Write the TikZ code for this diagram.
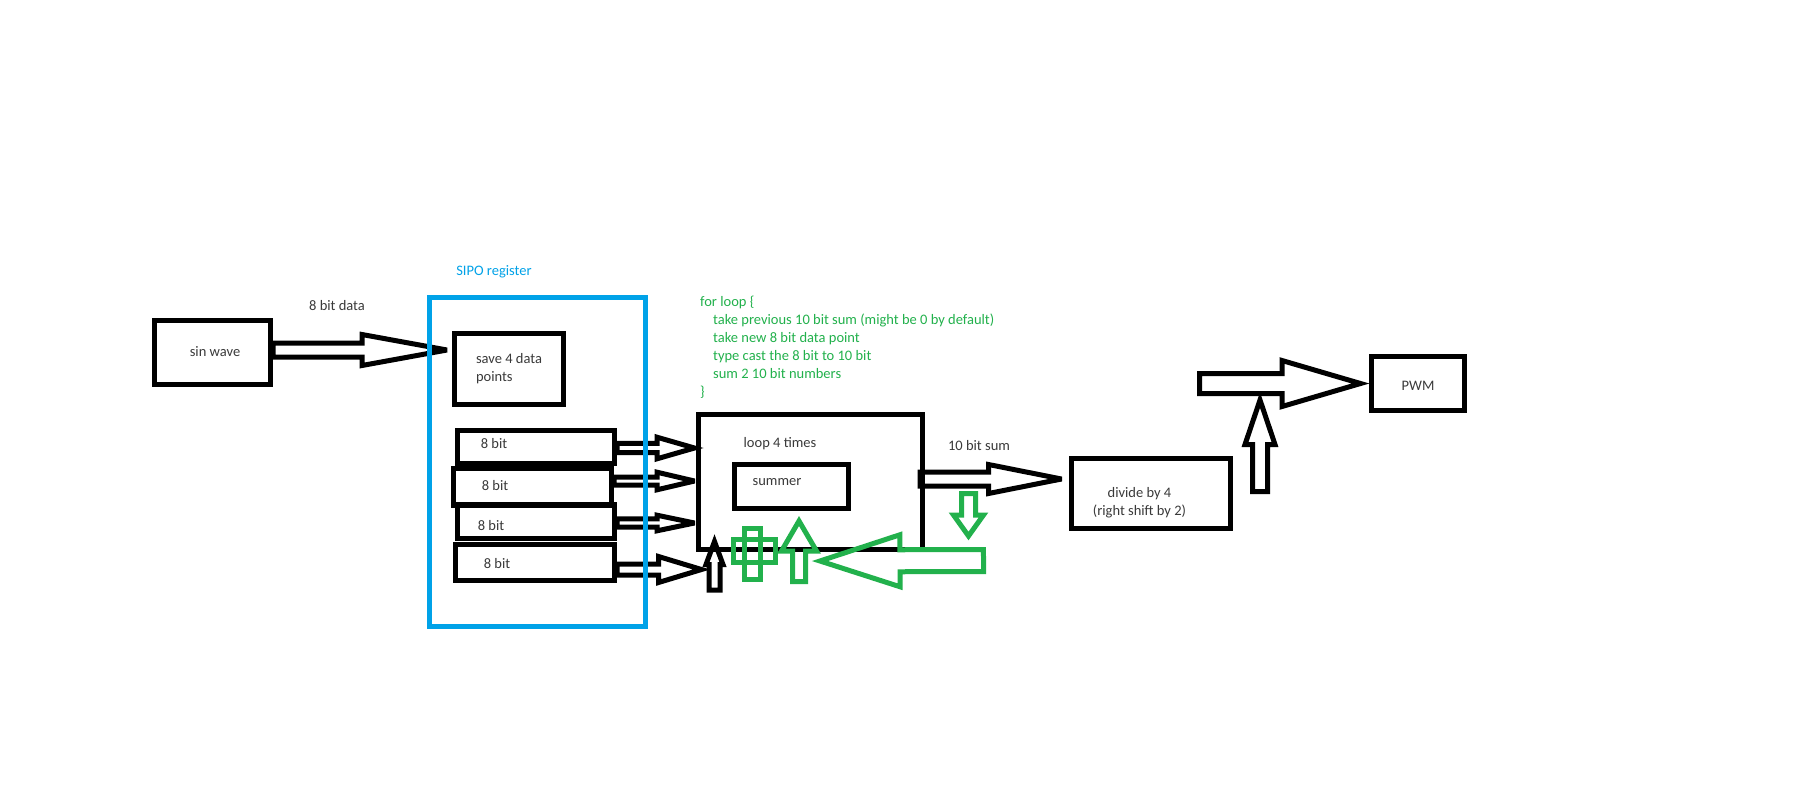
\documentclass[tikz,border=0pt]{standalone}
\usepackage{fontspec}
\setmainfont{Carlito}
\usetikzlibrary{calc}
\definecolor{pblue}{HTML}{00A2E8}
\definecolor{pgreen}{HTML}{22B14C}
\definecolor{ink}{HTML}{3A3A3A}

% Outlined block arrow: style, tail, tip, half shaft width, half head width, head length
\newcommand\blockarrow[6]{%
  \coordinate (bat) at (#2);
  \coordinate (bap) at (#3);
  \coordinate (bab) at ($(bap)!#6pt!(bat)$);
  \draw[#1] ($(bat)!#4pt!90:(bap)$) -- ($(bab)!#4pt!90:(bap)$)
    -- ($(bab)!#5pt!90:(bap)$) -- (bap) -- ($(bab)!#5pt!-90:(bap)$)
    -- ($(bab)!#4pt!-90:(bap)$) -- ($(bat)!#4pt!-90:(bap)$) -- cycle;
}

\tikzset{
  txt/.style={inner sep=0pt, font=\fontsize{14.5}{18}\selectfont, text=ink},
  box/.style={txt, draw=black, line width=5pt},
  bitbox/.style={box, minimum width=157pt, minimum height=34pt},
  regbox/.style={draw=pblue, line width=5pt, inner sep=0pt},
  blk/.style={draw=black, line width=5pt, line join=miter, miter limit=4},
  grn/.style={draw=pgreen, line width=5pt, line join=miter, miter limit=4},
}

\begin{document}
\begin{tikzpicture}[x=1pt, y=-1pt]
\useasboundingbox[fill=white] (0,0) rectangle (1809,798);

% blocks
\node[box, minimum width=116pt, minimum height=64pt] (sin) at (212.5,352.5) {};
\node[txt] (sinl) at (215,352) {sin wave};
\node[box, minimum width=109pt, minimum height=71pt, align=left] (save) at (509,369) {save 4 data\\points};
\node[bitbox, minimum height=33pt] (b1) at (536,447) {};
\node[bitbox, minimum width=158pt, minimum height=37pt] (b2) at (532.5,487) {};
\node[bitbox] (b3) at (536,521.5) {};
\node[bitbox, minimum width=159pt, minimum height=36pt] (b4) at (535,562.5) {};
\node[txt] (b1l) at (494,444) {8 bit};
\node[txt] (b2l) at (495,486) {8 bit};
\node[txt] (b3l) at (491,526) {8 bit};
\node[txt] (b4l) at (497,564) {8 bit};

\node[box, minimum width=224pt, minimum height=135pt] (loop) at (810.5,482) {};
\node[txt] (loopl) at (780,444) {loop 4 times};
\node[box, minimum width=114pt, minimum height=44pt] (summer) at (791.5,486.5) {};
\node[txt] (summerl) at (777,482) {summer};

\node[box, minimum width=159pt, minimum height=70pt] (divide) at (1151,493.5) {};
\node[txt, align=center] (dividel) at (1139.5,503) {divide by 4\\(right shift by 2)};
\node[box, minimum width=93pt, minimum height=54pt] (pwm) at (1418,383.5) {};
\node[txt] (pwml) at (1418,386) {PWM};

% labels
\node[txt] (datal) at (337,306) {8 bit data};
\node[txt] (suml) at (979,446) {10 bit sum};
\node[txt, text=pblue] (sipol) at (494,272) {SIPO register};
\node[txt, text=pgreen, align=left, anchor=west] (code) at (700,347)
  {for loop \{\\
   \hspace*{13pt}take previous 10 bit sum (might be 0 by default)\\
   \hspace*{13pt}take new 8 bit data point\\
   \hspace*{13pt}type cast the 8 bit to 10 bit\\
   \hspace*{13pt}sum 2 10 bit numbers\\
   \}};

% data arrows
\coordinate (t1) at ($(save.west)+(-5,-19)$);
\blockarrow{blk}{sin.east |- t1}{t1}{7}{15.5}{85}
\coordinate (t2) at ($(loop.west)+(-1.5,-34)$);
\blockarrow{blk}{b1.east |- t2}{t2}{4.7}{10.8}{37.5}
\coordinate (t3) at ($(loop.west)+(-1.5,-1)$);
\blockarrow{blk}{b2.east |- t3}{t3}{4}{8.8}{37.5}
\coordinate (t4) at ($(loop.west)+(-1.5,41)$);
\blockarrow{blk}{b3.east |- t4}{t4}{4.2}{7.8}{37.5}
\coordinate (t5) at ($(loop.south west)+(5.5,17.5)$);
\blockarrow{blk}{b4.east |- t5}{t5}{5.5}{13}{43}
\coordinate (t6) at ($(loop.south west)+(18.5,-10.5)$);
\coordinate (s6) at ($(t6)+(0,48.5)$);
\blockarrow{blk}{s6}{t6}{5.5}{8.5}{23}
\coordinate (t7) at ($(divide.west)+(-7.5,-14.5)$);
\coordinate (s7) at ($(loop.east |- t7)+(-5,0)$);
\blockarrow{blk}{s7}{t7}{7}{14.5}{73}
\coordinate (t8) at ($(pwm.west)+(-8.5,0)$);
\coordinate (s8) at (1199.5,383.5);
\blockarrow{blk}{s8}{t8}{10}{23}{78.5}
\coordinate (t9) at (1260,400);
\coordinate (s9) at (1260,491.5);
\blockarrow{blk}{s9}{t9}{7.5}{15}{44.5}

% register outline
\node[regbox, minimum width=216pt, minimum height=329pt] (sipo) at (537.5,462) {};

% feedback marks
\draw[grn] (744.5,528.5) rectangle (760.5,579.5);
\draw[grn] (733.5,539.5) rectangle (775.5,562.5);
\coordinate (g1t) at (799,521);
\coordinate (g1s) at (799,581.5);
\blockarrow{grn}{g1s}{g1t}{6.5}{17.5}{30}
\coordinate (g2t) at (820,561);
\coordinate (g2s) at (983.5,560.5);
\blockarrow{grn}{g2s}{g2t}{11}{26}{80}
\coordinate (g3t) at (968.5,536);
\coordinate (g3s) at (968.5,493.5);
\blockarrow{grn}{g3s}{g3t}{7}{15}{21}
\end{tikzpicture}
\end{document}
